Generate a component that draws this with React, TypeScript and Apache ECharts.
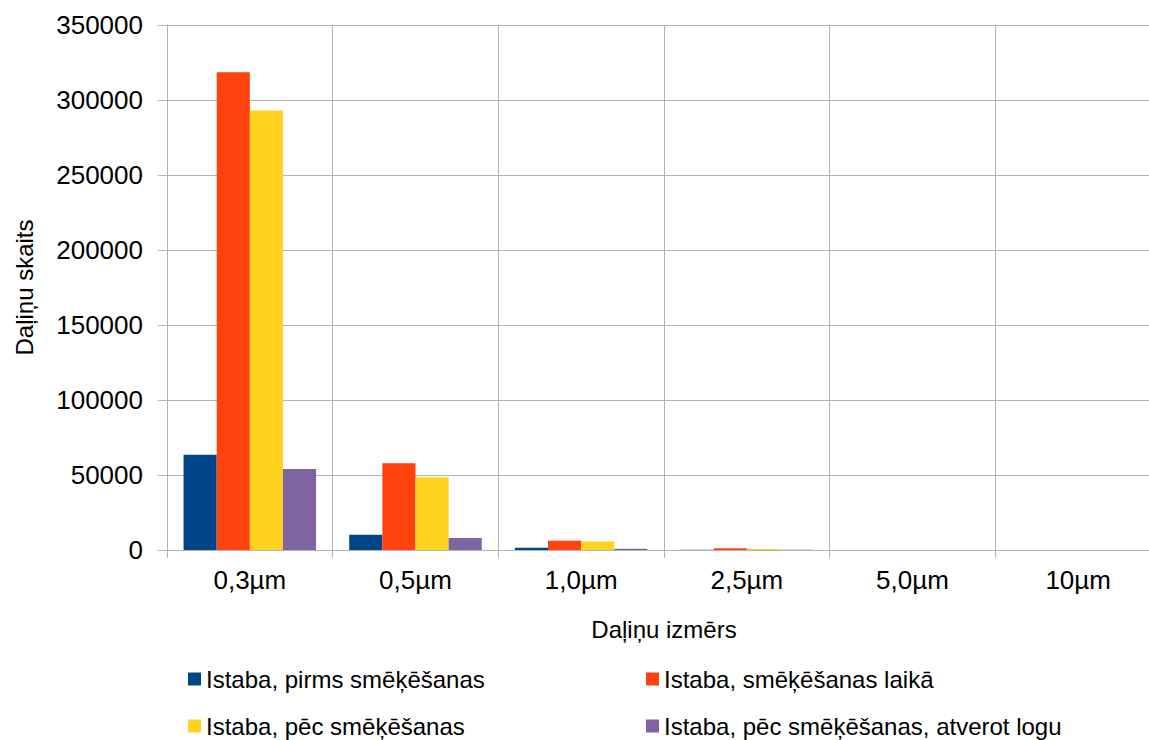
import React, { useEffect, useRef } from "react";
import * as echarts from "echarts";

const categories = ["0,3µm", "0,5µm", "1,0µm", "2,5µm", "5,0µm", "10µm"];
const seriesNames = [
  "Istaba, pirms smēķēšanas",
  "Istaba, smēķēšanas laikā",
  "Istaba, pēc smēķēšanas",
  "Istaba, pēc smēķēšanas, atverot logu",
];
const beforeSmoking = [63500, 10200, 1500, 200, 20, 5];
const duringSmoking = [318500, 57800, 6200, 1100, 80, 20];
const afterSmoking = [293000, 48500, 5600, 700, 50, 15];
const afterOpenWindow = [54000, 8000, 900, 120, 10, 5];
const yTicks = [0, 50000, 100000, 150000, 200000, 250000, 300000, 350000];
const colors = ["#004586", "#ff420e", "#ffd320", "#8064a2"];

const FONT = "'Liberation Sans', Arial, sans-serif";

export default function App() {
  const ref = useRef<HTMLDivElement>(null);
  useEffect(() => {
    if (!ref.current) return;
    const chart = echarts.init(ref.current, undefined, { renderer: "svg" });
    const values = [beforeSmoking, duringSmoking, afterSmoking, afterOpenWindow];
    const gridColor = "#b3b3b3";
    const legendPos = [
      { left: 188, top: 667 },
      { left: 646, top: 667 },
      { left: 188, top: 714 },
      { left: 646, top: 714 },
    ];
    chart.setOption({
      animation: false,
      backgroundColor: "#ffffff",
      textStyle: { fontFamily: FONT },
      grid: {
        left: 167,
        top: 25,
        right: -12,
        bottom: 190,
        containLabel: false,
        outerBoundsMode: "none",
      },
      legend: seriesNames.map((name, i) => ({
        orient: "horizontal",
        left: legendPos[i].left,
        top: legendPos[i].top,
        padding: 0,
        itemWidth: 13,
        itemHeight: 13,
        icon: "rect",
        data: [name],
        textStyle: { fontSize: 24, color: "#000", fontFamily: FONT },
      })),
      xAxis: {
        type: "category",
        data: categories,
        boundaryGap: true,
        name: "Daļiņu izmērs",
        nameLocation: "middle",
        nameGap: 67,
        nameTextStyle: { fontSize: 24, color: "#000", fontFamily: FONT },
        axisLine: { show: true, lineStyle: { color: gridColor, width: 1 } },
        axisTick: { show: true, length: 8, lineStyle: { color: gridColor } },
        axisLabel: { fontSize: 26, color: "#000", margin: 17, fontFamily: FONT },
        splitLine: { show: true, lineStyle: { color: gridColor, width: 1 } },
      },
      yAxis: {
        type: "value",
        min: 0,
        max: yTicks[yTicks.length - 1],
        interval: yTicks[1] - yTicks[0],
        name: "Daļiņu skaits",
        nameLocation: "middle",
        nameGap: 131,
        nameRotate: 90,
        nameTextStyle: { fontSize: 24, color: "#000", fontFamily: FONT },
        axisLine: { show: true, lineStyle: { color: gridColor, width: 1 } },
        axisTick: { show: true, length: 9, lineStyle: { color: gridColor } },
        axisLabel: {
          fontSize: 26,
          color: "#000",
          margin: 24,
          fontFamily: FONT,
          formatter: (v: number) => String(v),
        },
        splitLine: { show: true, lineStyle: { color: gridColor, width: 1 } },
      },
      series: seriesNames.map((name, i) => ({
        name,
        type: "bar",
        data: values[i],
        barGap: "0%",
        barCategoryGap: "20%",
        itemStyle: { color: colors[i] },
      })),
    });
    return () => chart.dispose();
  }, []);
  return (
    <div
      ref={ref}
      style={{ position: "fixed", left: 0, top: 0, width: 1149, height: 740 }}
    />
  );
}
